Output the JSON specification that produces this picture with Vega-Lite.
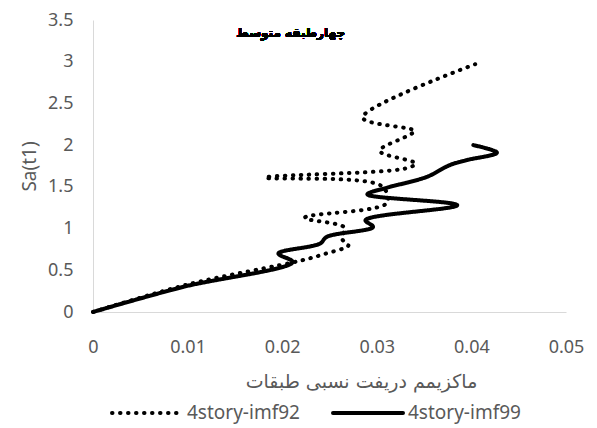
{
  "$schema": "https://vega.github.io/schema/vega-lite/v6.json",
  "width": 473,
  "height": 292,
  "autosize": "none",
  "padding": {"left": 93, "top": 20, "right": 31, "bottom": 116},
  "background": "white",
  "data": {
    "values": [
      {"series": "4story-imf92", "i": 0, "drift": 0.0, "sa": 0.0},
      {"series": "4story-imf92", "i": 1, "drift": 0.0100, "sa": 0.33},
      {"series": "4story-imf92", "i": 2, "drift": 0.0221, "sa": 0.62},
      {"series": "4story-imf92", "i": 3, "drift": 0.0246, "sa": 0.70},
      {"series": "4story-imf92", "i": 4, "drift": 0.0270, "sa": 0.80},
      {"series": "4story-imf92", "i": 5, "drift": 0.0263, "sa": 0.88},
      {"series": "4story-imf92", "i": 6, "drift": 0.0266, "sa": 1.01},
      {"series": "4story-imf92", "i": 7, "drift": 0.0224, "sa": 1.13},
      {"series": "4story-imf92", "i": 8, "drift": 0.0311, "sa": 1.31},
      {"series": "4story-imf92", "i": 9, "drift": 0.0305, "sa": 1.51},
      {"series": "4story-imf92", "i": 10, "drift": 0.0182, "sa": 1.61},
      {"series": "4story-imf92", "i": 11, "drift": 0.0330, "sa": 1.72},
      {"series": "4story-imf92", "i": 12, "drift": 0.0341, "sa": 1.78},
      {"series": "4story-imf92", "i": 13, "drift": 0.0303, "sa": 1.93},
      {"series": "4story-imf92", "i": 14, "drift": 0.0332, "sa": 2.11},
      {"series": "4story-imf92", "i": 15, "drift": 0.0340, "sa": 2.17},
      {"series": "4story-imf92", "i": 16, "drift": 0.0285, "sa": 2.33},
      {"series": "4story-imf92", "i": 17, "drift": 0.0404, "sa": 2.97},
      {"series": "4story-imf99", "i": 0, "drift": 0.0, "sa": 0.0},
      {"series": "4story-imf99", "i": 1, "drift": 0.0095, "sa": 0.30},
      {"series": "4story-imf99", "i": 2, "drift": 0.0211, "sa": 0.60},
      {"series": "4story-imf99", "i": 3, "drift": 0.0196, "sa": 0.70},
      {"series": "4story-imf99", "i": 4, "drift": 0.0240, "sa": 0.82},
      {"series": "4story-imf99", "i": 5, "drift": 0.0247, "sa": 0.90},
      {"series": "4story-imf99", "i": 6, "drift": 0.0296, "sa": 1.02},
      {"series": "4story-imf99", "i": 7, "drift": 0.0288, "sa": 1.10},
      {"series": "4story-imf99", "i": 8, "drift": 0.0385, "sa": 1.28},
      {"series": "4story-imf99", "i": 9, "drift": 0.0290, "sa": 1.41},
      {"series": "4story-imf99", "i": 10, "drift": 0.0311, "sa": 1.49},
      {"series": "4story-imf99", "i": 11, "drift": 0.0353, "sa": 1.62},
      {"series": "4story-imf99", "i": 12, "drift": 0.0377, "sa": 1.76},
      {"series": "4story-imf99", "i": 13, "drift": 0.0395, "sa": 1.82},
      {"series": "4story-imf99", "i": 14, "drift": 0.0427, "sa": 1.91},
      {"series": "4story-imf99", "i": 15, "drift": 0.0402, "sa": 2.00}
    ]
  },
  "layer": [
    {
      "mark": {
        "type": "line",
        "color": "black",
        "strokeWidth": 4,
        "strokeCap": "round",
        "strokeJoin": "round",
        "interpolate": "catmull-rom"
      },
      "encoding": {
        "x": {
          "field": "drift",
          "type": "quantitative",
          "scale": {"domain": [0, 0.05], "nice": false},
          "axis": {
            "title": "ماکزیمم دریفت نسبی طبقات",
            "titleFont": "DejaVu Sans",
            "titleFontSize": 19,
            "values": [0, 0.01, 0.02, 0.03, 0.04, 0.05],
            "format": "~g",
            "labelFlush": false,
            "labelPadding": 26,
            "titleX": 268,
            "titleY": 69,
            "titleBaseline": "middle",
            "titleAlign": "center"
          }
        },
        "y": {
          "field": "sa",
          "type": "quantitative",
          "scale": {"domain": [0, 3.5], "nice": false},
          "axis": {
            "title": "Sa(t1)",
            "values": [0, 0.5, 1, 1.5, 2, 2.5, 3, 3.5],
            "format": "~g",
            "labelFlush": false,
            "labelPadding": 20,
            "titlePadding": 8
          }
        },
        "order": {"field": "i", "type": "quantitative"},
        "strokeDash": {
          "field": "series",
          "type": "nominal",
          "scale": {
            "domain": ["4story-imf92", "4story-imf99"],
            "range": [[0.5, 7.5], [1, 0]]
          },
          "legend": {
            "title": null,
            "orient": "none",
            "direction": "horizontal",
            "legendX": 17,
            "legendY": 356,
            "symbolType": "stroke",
            "symbolSize": 4900,
            "symbolStrokeWidth": 4,
            "symbolStrokeColor": "black",
            "labelFont": "Noto Sans",
            "labelFontSize": 19,
            "labelColor": "#595959",
            "labelOffset": 3,
            "columnPadding": 25,
            "encode": {"symbols": {"update": {"strokeCap": {"value": "round"}}}}
          }
        }
      }
    },
    {
      "mark": {
        "type": "text",
        "text": "چهارطبقه متوسط",
        "font": "DejaVu Sans",
        "fontSize": 12,
        "fontWeight": "bold",
        "color": "black",
        "align": "center",
        "baseline": "middle"
      },
      "encoding": {
        "x": {"datum": 0.0209},
        "y": {"datum": 3.35}
      }
    }
  ],
  "config": {
    "view": {"stroke": null},
    "axis": {
      "grid": false,
      "ticks": false,
      "domainColor": "#d9d9d9",
      "domainWidth": 1,
      "labelFont": "Noto Sans",
      "labelFontSize": 18,
      "labelColor": "#595959",
      "titleFont": "Noto Sans",
      "titleFontSize": 19,
      "titleFontWeight": "normal",
      "titleColor": "#595959"
    }
  }
}
